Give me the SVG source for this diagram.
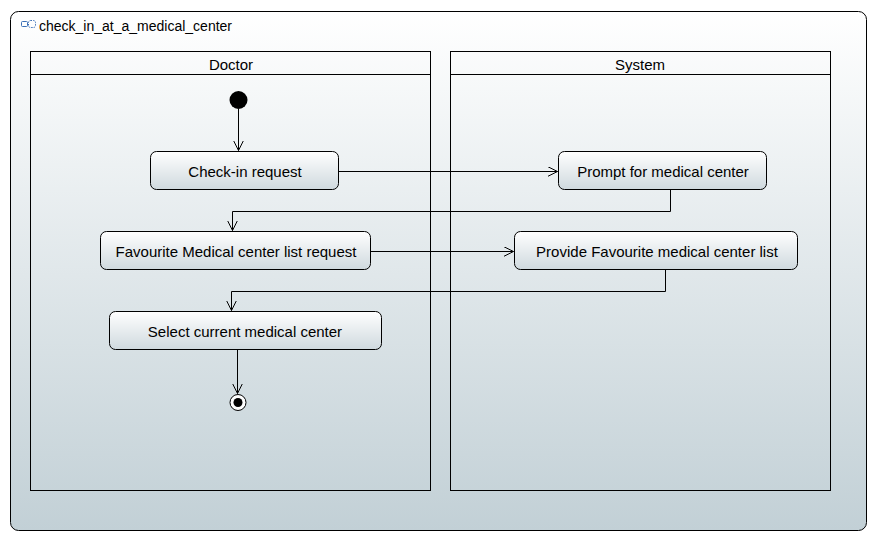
<svg xmlns="http://www.w3.org/2000/svg" width="877" height="541" viewBox="0 0 877 541">
<defs>
<linearGradient id="bg" x1="0" y1="0" x2="0" y2="1">
<stop offset="0" stop-color="#ffffff"/>
<stop offset="1" stop-color="#c2d0d6"/>
</linearGradient>
<linearGradient id="nd" x1="0" y1="0" x2="0" y2="1">
<stop offset="0" stop-color="#ffffff"/>
<stop offset="1" stop-color="#cfd9de"/>
</linearGradient>
<marker id="arr" markerWidth="12" markerHeight="12" refX="10" refY="5" orient="auto" markerUnits="userSpaceOnUse">
<path d="M0,0 L10,5 L0,10" fill="none" stroke="#000" stroke-width="1"/>
</marker>
</defs>
<style>
.frame{fill:url(#bg);stroke:#000;stroke-width:1}
.lane{fill:none;stroke:#000;stroke-width:1}
.hdr{fill:none;stroke:#000;stroke-width:1}
.act{fill:url(#nd);stroke:#000;stroke-width:1}
.t{font-family:"Liberation Sans","DejaVu Sans",sans-serif;font-size:15px;fill:#000;text-anchor:middle;dominant-baseline:central}
.title{font-family:"Liberation Sans","DejaVu Sans",sans-serif;font-size:14px;fill:#000}
.c{fill:none;stroke:#000;stroke-width:1;marker-end:url(#arr)}
</style>
<rect class="frame" x="10.5" y="11.5" width="856" height="519" rx="8"/>
<g id="icon" fill="none" stroke="#3b6fb6" stroke-width="1">
<rect x="21.5" y="21.5" width="6" height="5" rx="1"/>
<rect x="28.5" y="20.5" width="7" height="7" rx="2" stroke-dasharray="1.5,1"/>
</g>
<text class="title" x="39" y="31">check_in_at_a_medical_center</text>
<g id="lane-doctor">
<rect class="lane" x="30.5" y="51.5" width="400" height="439"/>
<line class="hdr" x1="30.5" y1="74.5" x2="430.5" y2="74.5"/>
<text class="t" x="231" y="64.5">Doctor</text>
</g>
<g id="lane-system">
<rect class="lane" x="450.5" y="51.5" width="380" height="439"/>
<line class="hdr" x1="450.5" y1="74.5" x2="830.5" y2="74.5"/>
<text class="t" x="640" y="64.5">System</text>
</g>
<g id="connectors">
<path class="c" d="M238.5,109 V150.5"/>
<path class="c" d="M338.5,171.5 H557.5"/>
<path class="c" d="M670.5,189.5 V211.5 H232.5 V230.5"/>
<path class="c" d="M370.5,251.5 H513.5"/>
<path class="c" d="M665.5,269.5 V291.5 H231.5 V310.5"/>
<path class="c" d="M237.5,349.5 V393.5"/>
</g>
<g id="initial">
<circle cx="238.5" cy="100" r="9" fill="#000"/>
</g>
<g id="check-in-request">
<rect class="act" x="150.5" y="151.5" width="188" height="38" rx="6"/>
<text class="t" x="245" y="171.5">Check-in request</text>
</g>
<g id="prompt-for-medical-center">
<rect class="act" x="558.5" y="151.5" width="208" height="38" rx="6"/>
<text class="t" x="663" y="171.5">Prompt for medical center</text>
</g>
<g id="favourite-list-request">
<rect class="act" x="100.5" y="231.5" width="270" height="38" rx="6"/>
<text class="t" x="236" y="251.5">Favourite Medical center list request</text>
</g>
<g id="provide-favourite-list">
<rect class="act" x="514.5" y="231.5" width="283" height="38" rx="6"/>
<text class="t" x="657" y="251.5">Provide Favourite medical center list</text>
</g>
<g id="select-current-medical-center">
<rect class="act" x="109.5" y="311.5" width="272" height="38" rx="6"/>
<text class="t" x="245" y="331.5">Select current medical center</text>
</g>
<g id="final">
<circle cx="238" cy="402.5" r="8" fill="#fff" stroke="#000" stroke-width="1"/>
<circle cx="238" cy="402.5" r="4.5" fill="#000"/>
</g>
</svg>
